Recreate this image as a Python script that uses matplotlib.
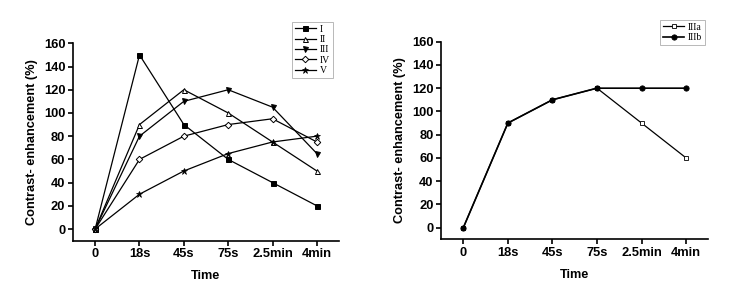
import numpy as np
import matplotlib
matplotlib.use("Agg")
import matplotlib.pyplot as plt

times = ["0", "18s", "45s", "75s", "2.5min", "4min"]

# left panel
s1 = [0, 150, 90, 60, 40, 20]
s2 = [0, 90, 120, 100, 75, 50]
s3 = [0, 80, 110, 120, 105, 65]
s4 = [0, 60, 80, 90, 95, 75]
s5 = [0, 30, 50, 65, 75, 80]
left_names = ["I", "II", "III", "IV", "V"]

# right panel
s3a = [0, 90, 110, 120, 90, 60]
s3b = [0, 90, 110, 120, 120, 120]
right_names = ["IIIa", "IIIb"]

plt.rcParams['font.family'] = ['Liberation Sans', 'DejaVu Sans']

fig = plt.figure(figsize=(7.29, 3.05), dpi=100)
ax1 = fig.add_axes([0.1001, 0.211, 0.365, 0.647])
ax2 = fig.add_axes([0.605, 0.2154, 0.3667, 0.648])

x = np.arange(len(times))

def style(ax):
    ax.set_xlim(-0.5, 5.5)
    ax.set_ylim(-10, 160)
    ax.set_yticks(np.arange(0, 161, 20))
    ax.set_xticks(x)
    ax.set_xticklabels(times)
    for side in ["top", "right"]:
        ax.spines[side].set_visible(False)
    for side in ["left", "bottom"]:
        ax.spines[side].set_linewidth(1.2)
    ax.tick_params(direction="out", length=3.5, width=1.2, labelsize=9.3, pad=2)
    for lab in ax.get_xticklabels() + ax.get_yticklabels():
        lab.set_fontweight("bold")
    ax.set_xlabel("Time", fontsize=9.2, fontweight="bold", labelpad=7)
    ax.set_ylabel("Contrast- enhancement (%)", fontsize=9.2, fontweight="bold", labelpad=4)

kw = dict(color="black", lw=0.9, ms=3.6, mew=0.7)
ax1.plot(x, s1, marker="s", mfc="black", label=left_names[0], **kw)
ax1.plot(x, s2, marker="^", mfc="white", label=left_names[1], **kw)
ax1.plot(x, s3, marker="v", mfc="black", label=left_names[2], **kw)
ax1.plot(x, s4, marker="D", mfc="white", label=left_names[3], ms=3.3, mew=0.7, color="black", lw=0.9)
ax1.plot(x, s5, marker="*", mfc="black", label=left_names[4], ms=4.6, mew=0.5, color="black", lw=0.9)
style(ax1)
leg1 = ax1.legend(loc="upper left", bbox_to_anchor=(0.822, 1.11), fancybox=False,
                  edgecolor="#999999", prop={"family": "Liberation Serif", "size": 7},
                  handlelength=2.2, handletextpad=0.4, labelspacing=0.15,
                  borderpad=0.3, borderaxespad=0)
leg1.get_frame().set_linewidth(0.6)

ax2.plot(x, s3a, marker="s", mfc="white", label=right_names[0], color="black", lw=0.9, ms=3.5, mew=0.6)
ax2.plot(x, s3b, marker="o", mfc="black", label=right_names[1], color="black", lw=1.2, ms=3.8, mew=0.6)
style(ax2)
leg2 = ax2.legend(loc="upper left", bbox_to_anchor=(0.819, 1.11), fancybox=False,
                  edgecolor="#999999", prop={"family": "Liberation Serif", "size": 7},
                  handlelength=2.2, handletextpad=0.4, labelspacing=0.15,
                  borderpad=0.3, borderaxespad=0)
leg2.get_frame().set_linewidth(0.6)

fig.savefig("out.png", dpi=100)
